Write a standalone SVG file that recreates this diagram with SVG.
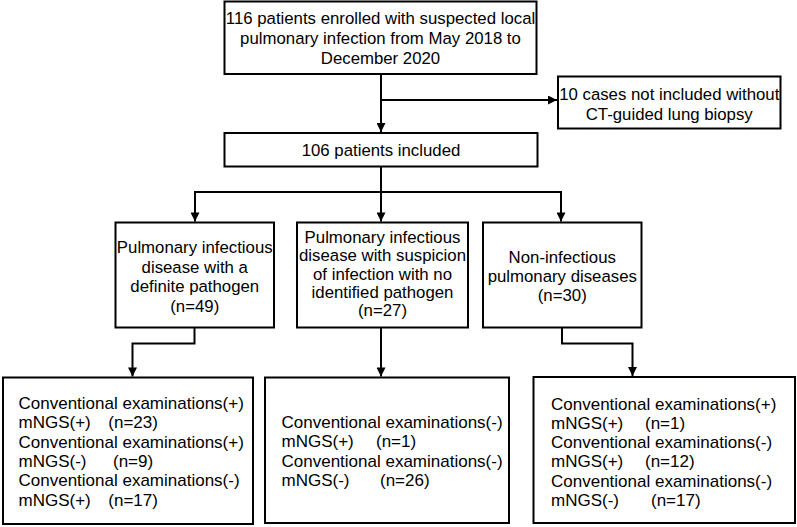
<svg xmlns="http://www.w3.org/2000/svg" width="797" height="527" viewBox="0 0 797 527">
<style>
.box{fill:#fff;stroke:#000;stroke-width:2}
.t{font-family:"Liberation Sans",Arial,sans-serif;font-size:16.8px;fill:#000}
.c{text-anchor:middle}
.b{font-size:17px}
.ln{fill:none;stroke:#000;stroke-width:2}
</style>
<defs>
<marker id="ah" viewBox="0 0 10 10" refX="10" refY="5" markerWidth="10" markerHeight="9" markerUnits="userSpaceOnUse" orient="auto">
<path d="M0,0 L10,5 L0,10 Z" fill="#000"/>
</marker>
</defs>
<rect width="797" height="527" fill="#fff"/>
<g id="connectors">
<path class="ln" d="M381,74 V132" marker-end="url(#ah)"/>
<path class="ln" d="M381,100 H557" marker-end="url(#ah)"/>
<path class="ln" d="M381,166.5 V192"/>
<path class="ln" d="M195,192 H561"/>
<path class="ln" d="M195,191 V221.5" marker-end="url(#ah)"/>
<path class="ln" d="M381,192 V221.5" marker-end="url(#ah)"/>
<path class="ln" d="M561,191 V221.5" marker-end="url(#ah)"/>
<path class="ln" d="M194.5,327.5 V343.5 H132.5 V376.5" marker-end="url(#ah)"/>
<path class="ln" d="M381,327.5 V376.5" marker-end="url(#ah)"/>
<path class="ln" d="M562,327.5 V343.5 H632.5 V376" marker-end="url(#ah)"/>
</g>
<g id="enrolled">
<rect class="box" x="224.5" y="1.5" width="312" height="72.5"/>
<text class="t c" x="380.5" y="23.5">116 patients enrolled with suspected local</text>
<text class="t c" x="380.5" y="43.8">pulmonary infection from May 2018 to</text>
<text class="t c" x="380.5" y="63.5">December 2020</text>
</g>
<g id="excluded">
<rect class="box" x="558" y="76.5" width="222.5" height="52"/>
<text class="t c" x="669.25" y="100">10 cases not included without</text>
<text class="t c" x="669.25" y="120">CT-guided lung biopsy</text>
</g>
<g id="included">
<rect class="box" x="224.5" y="133" width="313" height="33.5"/>
<text class="t c" x="381" y="156">106 patients included</text>
</g>
<g id="definite">
<rect class="box" x="115.5" y="222.5" width="158.5" height="105"/>
<text class="t c" x="194.75" y="253">Pulmonary infectious</text>
<text class="t c" x="194.75" y="272.5">disease with a</text>
<text class="t c" x="194.75" y="292">definite pathogen</text>
<text class="t c" x="194.75" y="311.5">(n=49)</text>
</g>
<g id="suspicion">
<rect class="box" x="297" y="222.5" width="171" height="105"/>
<text class="t c" x="382.5" y="243">Pulmonary infectious</text>
<text class="t c" x="382.5" y="261.3">disease with suspicion</text>
<text class="t c" x="382.5" y="279.6">of infection with no</text>
<text class="t c" x="382.5" y="297.9">identified pathogen</text>
<text class="t c" x="382.5" y="316">(n=27)</text>
</g>
<g id="noninfectious">
<rect class="box" x="483" y="222.5" width="158.5" height="105"/>
<text class="t c" x="562.25" y="262.5">Non-infectious</text>
<text class="t c" x="562.25" y="281.5">pulmonary diseases</text>
<text class="t c" x="562.25" y="300.5">(n=30)</text>
</g>
<g id="result-definite">
<rect class="box" x="3" y="377.5" width="250" height="146.5"/>
<text class="t b" x="18.5" y="409">Conventional examinations(+)</text>
<text class="t b" x="18.5" y="428.3">mNGS(+)<tspan x="108.3">(n=23)</tspan></text>
<text class="t b" x="18.5" y="447.6">Conventional examinations(+)</text>
<text class="t b" x="18.5" y="466.9">mNGS(-)<tspan x="113">(n=9)</tspan></text>
<text class="t b" x="18.5" y="486.2">Conventional examinations(-)</text>
<text class="t b" x="18.5" y="505.5">mNGS(+)<tspan x="108.3">(n=17)</tspan></text>
</g>
<g id="result-suspicion">
<rect class="box" x="265" y="377.5" width="244" height="145.5"/>
<text class="t b" x="281.5" y="428">Conventional examinations(-)</text>
<text class="t b" x="281.5" y="447.3">mNGS(+)<tspan x="376">(n=1)</tspan></text>
<text class="t b" x="281.5" y="466.6">Conventional examinations(-)</text>
<text class="t b" x="281.5" y="485.9">mNGS(-)<tspan x="380">(n=26)</tspan></text>
</g>
<g id="result-noninfectious">
<rect class="box" x="533.5" y="377" width="261.5" height="146"/>
<text class="t b" x="551" y="409.5">Conventional examinations(+)</text>
<text class="t b" x="551" y="428.8">mNGS(+)<tspan x="645">(n=1)</tspan></text>
<text class="t b" x="551" y="448.1">Conventional examinations(-)</text>
<text class="t b" x="551" y="467.4">mNGS(+)<tspan x="645">(n=12)</tspan></text>
<text class="t b" x="551" y="486.7">Conventional examinations(-)</text>
<text class="t b" x="551" y="506">mNGS(-)<tspan x="651">(n=17)</tspan></text>
</g>
</svg>
